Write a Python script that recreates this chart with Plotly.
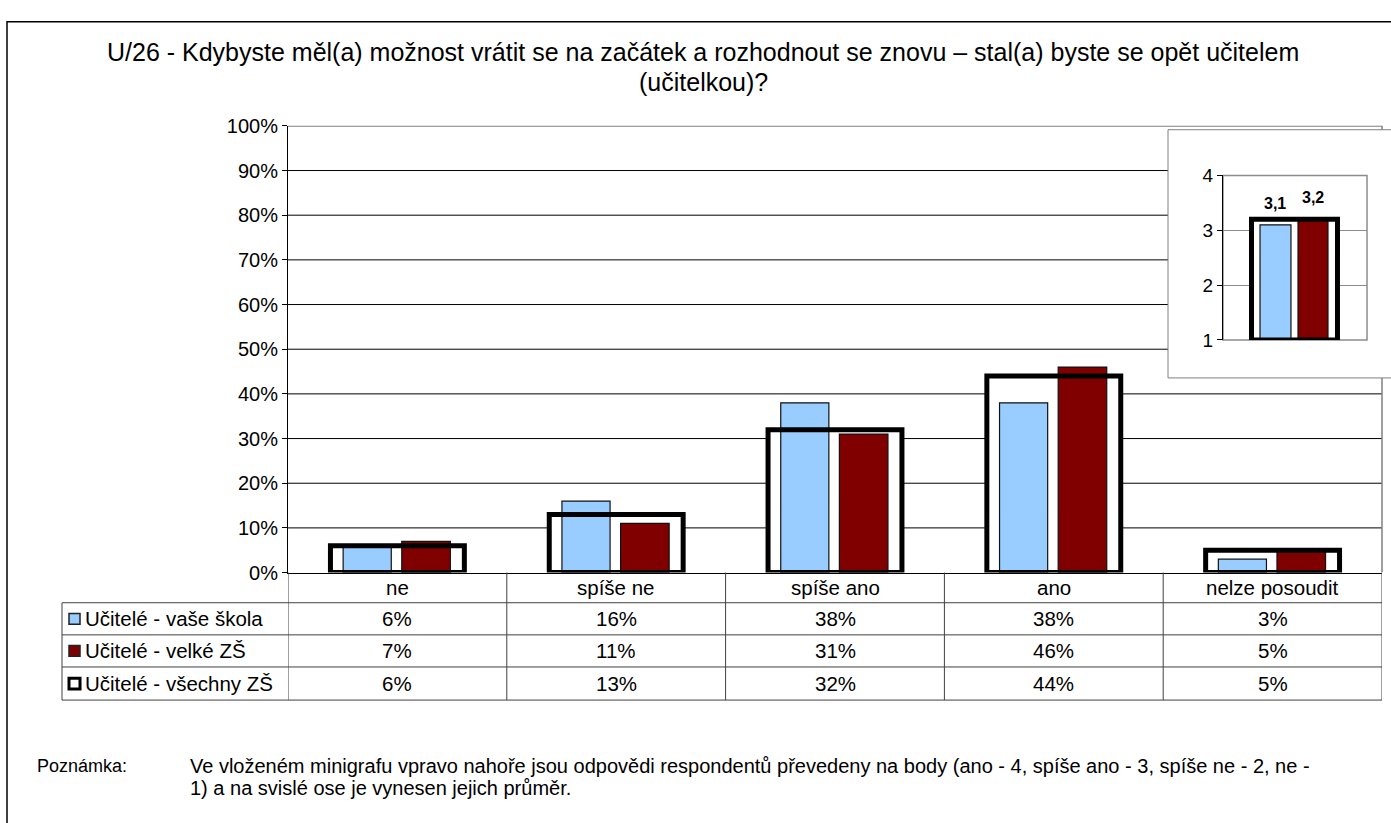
import plotly.graph_objects as go

W, H = 1391, 823

# ---- data ----
categories = ["ne", "spíše ne", "spíše ano", "ano", "nelze posoudit"]
series_names = ["Učitelé - vaše škola", "Učitelé - velké ZŠ", "Učitelé - všechny ZŠ"]
vase_skola = [6, 16, 38, 38, 3]
velke_zs = [7, 11, 31, 46, 5]
vsechny_zs = [6, 13, 32, 44, 5]
inset_means = [3.1, 3.2, 3.2]  # vaše škola, velké ZŠ, všechny ZŠ
y_ticks = list(range(0, 101, 10))
y_tick_labels = [f"{t}%" for t in y_ticks]
inset_ticks = [1, 2, 3, 4]

title_lines = [
    "U/26 - Kdybyste měl(a) možnost vrátit se na začátek a rozhodnout se znovu – stal(a) byste se opět učitelem",
    "(učitelkou)?",
]
note_label = "Poznámka:"
note_lines = [
    "Ve vloženém minigrafu vpravo nahoře jsou odpovědi respondentů převedeny na body (ano - 4, spíše ano - 3, spíše ne - 2, ne -",
    "1) a na svislé ose je vynesen jejich průměr.",
]

BLUE = "#99CCFF"
RED = "#800000"
FONT = "Liberation Sans, Arial, sans-serif"


def px(x):
    return x / W


def py(y):
    return 1 - y / H


fig = go.Figure()

# geometry (category units)
OUT_OFF, OUT_W = -0.306, 0.612
B_OFF, B_W = -0.248, 0.22
R_OFF, R_W = 0.02, 0.222

# main chart: outline fill (white, behind), bars, outline border (on top)
fig.add_trace(go.Bar(x=categories, y=vsechny_zs, offset=OUT_OFF, width=OUT_W,
                     marker=dict(color="white", line=dict(width=0)), hoverinfo="skip"))
fig.add_trace(go.Bar(x=categories, y=vase_skola, offset=B_OFF, width=B_W, name=series_names[0],
                     marker=dict(color=BLUE, line=dict(color="#111", width=1.2))))
fig.add_trace(go.Bar(x=categories, y=velke_zs, offset=R_OFF, width=R_W, name=series_names[1],
                     marker=dict(color=RED, line=dict(color="#111", width=1.2))))
fig.add_trace(go.Bar(x=categories, y=vsechny_zs, offset=OUT_OFF, width=OUT_W, name=series_names[2],
                     marker=dict(color="rgba(0,0,0,0)", line=dict(color="black", width=5))))

# inset chart
IO_OFF, IO_W = -0.302, 0.597
IB_OFF, IB_W = -0.243, 0.215
IR_OFF, IR_W = 0.021, 0.208
fig.add_trace(go.Bar(x=[0], y=[inset_means[2] - 1], base=1, offset=IO_OFF, width=IO_W,
                     xaxis="x2", yaxis="y2", marker=dict(color="white", line=dict(width=0))))
fig.add_trace(go.Bar(x=[0], y=[inset_means[0] - 1], base=1, offset=IB_OFF, width=IB_W,
                     xaxis="x2", yaxis="y2", marker=dict(color=BLUE, line=dict(color="#111", width=1.2))))
fig.add_trace(go.Bar(x=[0], y=[inset_means[1] - 1], base=1, offset=IR_OFF, width=IR_W,
                     xaxis="x2", yaxis="y2", marker=dict(color=RED, line=dict(color="#111", width=1.2))))
fig.add_trace(go.Bar(x=[0], y=[inset_means[2] - 1], base=1, offset=IO_OFF, width=IO_W,
                     xaxis="x2", yaxis="y2",
                     marker=dict(color="rgba(0,0,0,0)", line=dict(color="black", width=5))))

shapes = []
# main gridlines (behind inset box)
for t in y_ticks[1:]:
    top = t == y_ticks[-1]
    shapes.append(dict(type="line", xref="paper", yref="y", x0=px(288), x1=px(1382), y0=t, y1=t,
                       line=dict(color="#808080" if top else "#000", width=2 if top else 1), layer="below"))
# plot area right border
shapes.append(dict(type="line", xref="paper", yref="y", x0=px(1382), x1=px(1382), y0=0, y1=100,
                   line=dict(color="#808080", width=1.5), layer="below"))
# inset white box
shapes.append(dict(type="rect", xref="paper", yref="paper", x0=px(1168), x1=px(1400), y0=py(377), y1=py(122),
                   fillcolor="white", line=dict(color="#808080", width=1), layer="below"))
# inset plot area border
shapes.append(dict(type="rect", xref="paper", yref="paper", x0=px(1223), x1=px(1367), y0=py(338), y1=py(169),
                   fillcolor="rgba(0,0,0,0)", line=dict(color="#8c8c8c", width=1.5), layer="below"))
# outer frame
shapes.append(dict(type="rect", xref="paper", yref="paper", x0=px(7), x1=px(1400), y0=py(835), y1=py(11),
                   fillcolor="rgba(0,0,0,0)", line=dict(color="black", width=1.5), layer="below"))

# data table grid
TC = "#404040"
for i in range(len(categories) + 1):
    shapes.append(dict(type="line", xref="x", yref="paper", x0=i - 0.5, x1=i - 0.5, y0=py(577), y1=py(708),
                       line=dict(color=TC, width=1)))
for yy in [608, 641, 674, 708]:
    shapes.append(dict(type="line", xref="paper", yref="paper", x0=px(62), x1=px(1382), y0=py(yy), y1=py(yy),
                       line=dict(color=TC, width=1)))
shapes.append(dict(type="line", xref="paper", yref="paper", x0=px(62), x1=px(62), y0=py(608), y1=py(708),
                   line=dict(color=TC, width=1)))

row_centers = [624.5, 657.5, 691]
key_styles = [
    dict(fillcolor=BLUE, line=dict(color="#222", width=1.5)),
    dict(fillcolor=RED, line=dict(color="#222", width=1.5)),
    dict(fillcolor="white", line=dict(color="black", width=3)),
]
for rc, ks in zip(row_centers, key_styles):
    shapes.append(dict(type="rect", xref="paper", yref="paper", x0=px(69), x1=px(80),
                       y0=py(rc + 5.5), y1=py(rc - 5.5), **ks))

TABLE_FS = 20.5
annotations = []
# title
for line, yc in zip(title_lines, [42, 73]):
    annotations.append(dict(text=line, x=px(703), y=py(yc), xref="paper", yref="paper",
                            showarrow=False, xanchor="center", yanchor="middle",
                            font=dict(size=25, color="black", family=FONT)))
# table category labels
for c in categories:
    annotations.append(dict(text=c, x=c, y=py(592.5), xref="x", yref="paper", showarrow=False,
                            xanchor="center", yanchor="middle", font=dict(size=TABLE_FS, color="black", family=FONT)))
# table rows
for name, vals, rc in zip(series_names, [vase_skola, velke_zs, vsechny_zs], row_centers):
    annotations.append(dict(text=name, x=px(83), y=py(rc), xref="paper", yref="paper", showarrow=False,
                            xanchor="left", yanchor="middle", font=dict(size=TABLE_FS, color="black", family=FONT)))
    for c, v in zip(categories, vals):
        annotations.append(dict(text=f"{v}%", x=c, y=py(rc), xref="x", yref="paper", showarrow=False,
                                xanchor="center", yanchor="middle",
                                font=dict(size=TABLE_FS, color="black", family=FONT)))
# inset value labels
for val, off, wd in [(inset_means[0], IB_OFF, IB_W), (inset_means[1], IR_OFF, IR_W)]:
    annotations.append(dict(text=f"{val:.1f}".replace(".", ","), x=off + wd / 2, y=val, xref="x2", yref="y2",
                            showarrow=False, xanchor="center", yanchor="bottom", yshift=11,
                            font=dict(size=16, color="black", family=FONT, weight="bold")))
# note
annotations.append(dict(text=note_label, x=px(35), y=py(776), xref="paper", yref="paper", showarrow=False,
                        xanchor="left", yanchor="middle", font=dict(size=18, color="black", family=FONT)))
for line, yc in zip(note_lines, [776, 798]):
    annotations.append(dict(text=line, x=px(188), y=py(yc), xref="paper", yref="paper", showarrow=False,
                            xanchor="left", yanchor="middle", align="left",
                            font=dict(size=20, color="black", family=FONT)))

fig.update_layout(
    width=W, height=H, autosize=False,
    margin=dict(l=0, r=0, t=0, b=0),
    paper_bgcolor="white", plot_bgcolor="rgba(0,0,0,0)",
    barmode="overlay", showlegend=False,
    font=dict(family=FONT, color="black"),
    xaxis=dict(domain=[px(288), px(1382)], range=[-0.5, len(categories) - 0.5], showticklabels=False,
               showline=True, linecolor="black", linewidth=1, ticks="", showgrid=False, zeroline=False,
               fixedrange=True),
    yaxis=dict(domain=[py(577), py(118)], range=[0, 100], tickmode="array", tickvals=y_ticks,
               ticktext=y_tick_labels,
               showline=True, linecolor="black", linewidth=1, ticks="outside", ticklen=5, tickcolor="black",
               showgrid=False, zeroline=False, tickfont=dict(size=20, color="black", family=FONT),
               fixedrange=True),
    xaxis2=dict(domain=[px(1223), px(1367)], range=[-0.5, 0.5], anchor="y2", showticklabels=False,
                showline=False, ticks="", showgrid=False, zeroline=False, fixedrange=True),
    yaxis2=dict(domain=[py(338), py(169)], range=[1, 4], anchor="x2", tickmode="array", tickvals=inset_ticks,
                ticktext=[str(t) for t in inset_ticks],
                showline=True, linecolor="black", linewidth=1, ticks="outside", ticklen=5, tickcolor="black",
                showgrid=True, gridcolor="#8c8c8c", gridwidth=1, zeroline=False,
                tickfont=dict(size=19, color="black", family=FONT), fixedrange=True),
    shapes=shapes, annotations=annotations,
)

post = ("document.documentElement.style.margin='0';document.body.style.margin='0';"
        "document.body.style.overflow='hidden';document.documentElement.style.overflow='hidden';"
        "var gd=document.getElementById('{plot_id}');gd.style.position='fixed';gd.style.top='0px';gd.style.left='0px';")
fig.write_html("out.html", post_script=post, config={"displayModeBar": False})
